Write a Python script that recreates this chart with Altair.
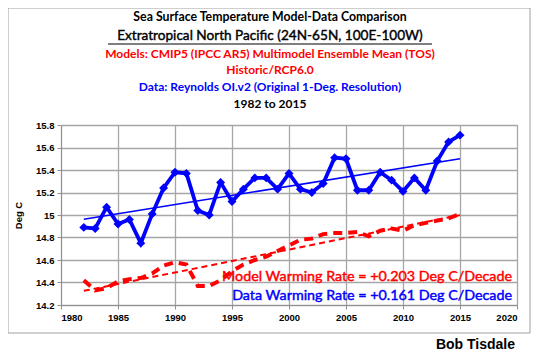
import altair as alt
import pandas as pd

years = list(range(1982, 2016))
data_sst = [14.89, 14.88, 15.07, 14.92, 14.96, 14.75, 15.01, 15.24, 15.38, 15.37,
            15.04, 15.00, 15.29, 15.12, 15.23, 15.33, 15.33, 15.23, 15.37, 15.23,
            15.20, 15.28, 15.51, 15.50, 15.22, 15.22, 15.38, 15.31, 15.21, 15.33,
            15.22, 15.48, 15.65, 15.71]
model_sst = [14.42, 14.33, 14.35, 14.41, 14.43, 14.44, 14.48, 14.55, 14.58, 14.56,
             14.37, 14.37, 14.42, 14.50, 14.56, 14.60, 14.63, 14.68, 14.73, 14.78,
             14.79, 14.83, 14.84, 14.84, 14.85, 14.81, 14.86, 14.88, 14.86, 14.91,
             14.93, 14.95, 14.97, 15.01]
x_ticks = [1980, 1985, 1990, 1995, 2000, 2005, 2010, 2015, 2020]
y_ticks = [14.2, 14.4, 14.6, 14.8, 15.0, 15.2, 15.4, 15.6, 15.8]

title_lines = [
    "Sea Surface Temperature Model-Data Comparison",
    "Extratropical North Pacific (24N-65N, 100E-100W)",
    "Models: CMIP5 (IPCC AR5) Multimodel Ensemble Mean (TOS)",
    "Historic/RCP6.0",
    "Data: Reynolds OI.v2 (Original 1-Deg. Resolution)",
    "1982 to 2015",
]
model_note = "Model Warming Rate = +0.203 Deg C/Decade"
data_note = "Data Warming Rate = +0.161 Deg C/Decade"
credit = "Bob Tisdale"

df = pd.DataFrame({"year": years, "data": data_sst, "model": model_sst})
one = pd.DataFrame({"k": [0]})

W, H = 456, 180
RED = "#ff0000"
BLUE = "#0000ff"
TFONT = "Lato"

x_scale = alt.Scale(domain=[1980, 2020], nice=False, zero=False)
y_scale = alt.Scale(domain=[14.2, 15.8], nice=False, zero=False)
x_axis = alt.Axis(values=x_ticks, format="d", title=None)
y_axis = alt.Axis(values=y_ticks, format="~g", title="Deg C", titleX=-38, titleY=90)

X = lambda f: alt.X(f"{f}:Q", scale=x_scale, axis=x_axis)
Y = lambda f: alt.Y(f"{f}:Q", scale=y_scale, axis=y_axis)

base = alt.Chart(df)

model_line = base.mark_line(color=RED, strokeWidth=4, strokeDash=[9, 6]).encode(
    x=X("year"), y=Y("model"))
model_trend = base.transform_regression(
    "year", "model", extent=[1982, 2015]).mark_line(
    color=RED, strokeWidth=2, strokeDash=[6, 4]).encode(x=X("year"), y=Y("model"))
data_trend = base.transform_regression(
    "year", "data", extent=[1982, 2015]).mark_line(
    color=BLUE, strokeWidth=1.6).encode(x=X("year"), y=Y("data"))
data_line = base.mark_line(color=BLUE, strokeWidth=3.8).encode(x=X("year"), y=Y("data"))
data_pts = base.mark_point(shape="diamond", size=80, filled=True, color=BLUE, opacity=1).encode(
    x=X("year"), y=Y("data"))

layers = [model_trend, model_line, data_trend, data_line, data_pts]

# titles
t_specs = [
    (title_lines[0], -108, 12.3, "bold", "black", 0),
    (title_lines[1], -89, 13.6, "normal", "black", 0.4),
    (title_lines[2], -71, 12, "bold", RED, 0),
    (title_lines[3], -55, 12, "bold", RED, 0),
    (title_lines[4], -38, 12, "bold", BLUE, 0),
    (title_lines[5], -21, 12, "bold", "black", 0),
]
for txt, yy, fs, fw, col, sw in t_specs:
    layers.append(alt.Chart(one).mark_text(
        text=txt, font=TFONT, fontSize=fs, fontWeight=fw, color=col,
        stroke=col, strokeWidth=sw,
        align="center", baseline="middle").encode(x=alt.value(209), y=alt.value(yy)))

layers.append(alt.Chart(one).mark_rule(color="black", strokeWidth=1.2).encode(
    x=alt.value(47), x2=alt.value(371), y=alt.value(-81)))

layers.append(alt.Chart(one).mark_text(
    text=model_note, font=TFONT, fontSize=14.3, color=RED, stroke=RED, strokeWidth=0.45,
    align="right", baseline="middle").encode(x=alt.value(451), y=alt.value(152)))
layers.append(alt.Chart(one).mark_text(
    text=data_note, font=TFONT, fontSize=14.3, color=BLUE, stroke=BLUE, strokeWidth=0.45,
    align="right", baseline="middle").encode(x=alt.value(451), y=alt.value(171)))

layers.append(alt.Chart(one).mark_text(
    text=credit, font="Liberation Sans", fontSize=14, fontWeight="bold", color="black",
    align="right", baseline="middle").encode(x=alt.value(454), y=alt.value(220)))

layers.append(alt.Chart(one).mark_rect(filled=False, stroke="#a0a0a0", strokeWidth=1).encode(
    x=alt.value(-53), x2=alt.value(469), y=alt.value(-117), y2=alt.value(208)))

chart = alt.layer(*layers).properties(
    width=W, height=H,
    autosize=alt.AutoSizeParams(type="none"),
    padding={"left": 53, "top": 117, "right": 15, "bottom": 49},
    background="white",
).configure_view(stroke="#909090", strokeWidth=1).configure_axis(
    grid=True, gridColor="#a6a6a6", gridWidth=1.3,
    domainColor="#909090", tickColor="#909090", tickSize=4,
    labelFont="Liberation Sans", labelFontSize=9.5, labelFontWeight="bold", labelColor="black",
    titleFont="Liberation Sans", titleFontSize=9.5, titleFontWeight="bold", titleColor="black",
    labelPadding=3,
)

chart.save("out.html", embed_options={"renderer": "svg", "actions": False})
